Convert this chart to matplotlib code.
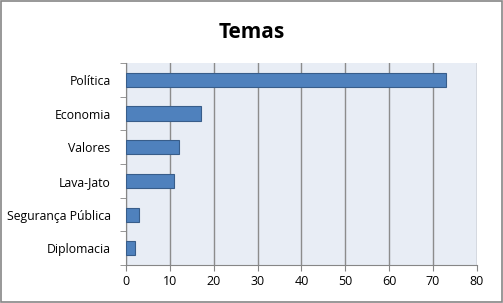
import matplotlib
matplotlib.use("Agg")
import matplotlib.pyplot as plt
from matplotlib.patches import Rectangle

# data
temas = ["Política", "Economia", "Valores", "Lava-Jato", "Segurança Pública", "Diplomacia"]
valores = [73, 17, 12, 11, 3, 2]
xticks = [0, 10, 20, 30, 40, 50, 60, 70, 80]

plt.rcParams['font.family'] = ['Open Sans', 'DejaVu Sans']

fig = plt.figure(figsize=(5.03, 3.03), dpi=100)
ax = fig.add_axes([0.2505, 0.125, 0.6975, 0.667])

# outer border of the chart
fig.patches.append(Rectangle((0.002, 0.003), 0.996, 0.994, transform=fig.transFigure,
                             fill=False, edgecolor='#868686', linewidth=1.2))

ypos = list(range(len(temas)))[::-1]
ax.barh(ypos, valores, height=0.42, color='#4F81BD', edgecolor='#385D8A', linewidth=0.8, zorder=3)

ax.set_facecolor('#E8EDF5')
ax.set_xlim(0, 80)
ax.set_ylim(-0.5, len(temas) - 0.5)
ax.set_xticks(xticks)
ax.set_xticklabels([str(t) for t in xticks], fontsize=9)
ax.set_yticks(ypos)
ax.set_yticklabels(temas, fontsize=8.8)
ax.tick_params(axis='y', length=0, pad=11)
# category boundary ticks on the y axis
ax.set_yticks([i - 0.5 for i in range(len(temas) + 1)], minor=True)
ax.tick_params(axis='y', which='minor', length=4, color='#868686', direction='out')
ax.tick_params(axis='x', length=4, color='#868686', direction='out', pad=3)

ax.grid(axis='x', color='#8C8C8C', linewidth=1.0, zorder=0)
ax.set_axisbelow(True)
for side in ['top', 'right']:
    ax.spines[side].set_visible(False)
ax.spines['left'].set_color('#868686')
ax.spines['bottom'].set_color('#868686')

fig.text(0.5, 0.893, "Temas", ha='center', va='center', fontsize=15, fontweight='bold')

fig.savefig("out.png", dpi=100)
